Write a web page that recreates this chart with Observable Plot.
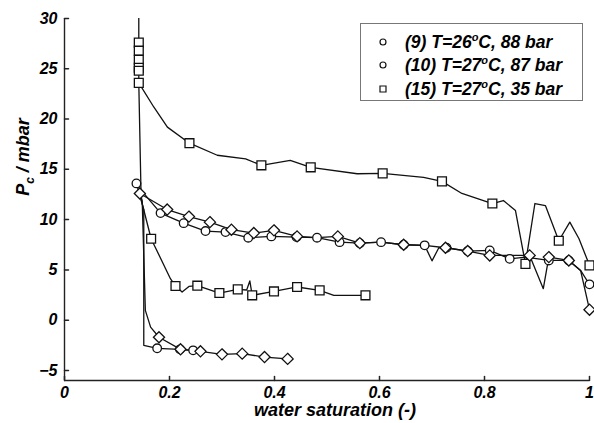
<!DOCTYPE html>
<html><head><meta charset="utf-8">
<script src="https://cdn.jsdelivr.net/npm/d3@7"></script>
<script src="https://cdn.jsdelivr.net/npm/@observablehq/plot@0.6"></script>
<style>
body{margin:0;background:#fff;}
#chart{position:relative;width:594px;height:423px;}
svg text{font-family:"Liberation Sans",Arial,sans-serif;font-weight:bold;font-style:italic;}
</style></head><body><div id="chart"></div>
<script>
// Tick values and labels
const xTicks = [0, 0.2, 0.4, 0.6, 0.8, 1];
const xTickLabels = ["0", "0.2", "0.4", "0.6", "0.8", "1"];
const yTicks = [-5, 0, 5, 10, 15, 20, 25, 30];

// Legend
const legendPrefix = ["(9) T=26", "(10) T=27", "(15) T=27"];
const legendSuffix = ["C, 88 bar", "C, 87 bar", "C, 35 bar"];

// (15) drainage (upper squares)
const s15dX = [0.1415,0.1415,0.1415,0.1415,0.1415,0.1415,0.1415,0.170,0.196,0.238,0.291,0.345,0.375,0.430,0.469,0.5575,0.606,0.684,0.719,0.757,0.815,0.836,0.859,0.878,0.896,0.916,0.9415,0.9625,0.98,1.0];
const s15dY = [31,27.6,26.8,25.9,25.1,24.8,23.6,21.2,19.2,17.6,16.4,16.05,15.4,15.9,15.2,14.56,14.6,14.2,13.8,12.6,11.6,11.9,10.9,5.6,11.6,11.4,7.9,9.75,8.1,5.45];
const s15dMX = [0.1415,0.1415,0.1415,0.1415,0.1415,0.1415,0.238,0.375,0.469,0.606,0.719,0.815,0.878,0.9415,1.0];
const s15dMY = [27.6,26.8,25.9,25.1,24.8,23.6,17.6,15.4,15.2,14.6,13.8,11.6,5.6,7.9,5.45];

// (15) imbibition (lower squares)
const s15iX = [0.1415,0.146,0.165,0.202,0.2114,0.224,0.237,0.253,0.295,0.33,0.347,0.353,0.3575,0.399,0.443,0.486,0.513,0.5733];
const s15iY = [23.6,12.0,8.1,4.1,3.4,2.8,3.36,3.43,2.7,3.06,3.0,3.9,2.47,2.86,3.3,2.96,2.47,2.47];
const s15iMX = [0.165,0.2114,0.253,0.295,0.33,0.3575,0.399,0.443,0.486,0.5733];
const s15iMY = [8.1,3.4,3.43,2.7,3.06,2.47,2.86,3.3,2.96,2.47];

// (9) drainage (middle circles)
const s9dX = [0.137,0.1415,0.183,0.227,0.2686,0.3067,0.35,0.394,0.442,0.481,0.524,0.5625,0.603,0.646,0.686,0.70,0.713,0.7276,0.768,0.81,0.848,0.878,0.9225,0.9606,0.983,1.0];
const s9dY = [13.6,13.2,10.65,9.65,8.86,8.76,8.2,8.33,8.26,8.2,7.76,7.66,7.76,7.5,7.44,5.9,7.2,7.2,6.87,6.94,6.1,6.27,5.94,5.94,4.95,3.56];
const s9dMX = [0.137,0.183,0.227,0.2686,0.3067,0.35,0.394,0.442,0.481,0.524,0.5625,0.603,0.646,0.686,0.7276,0.768,0.81,0.848,0.9225,0.9606,1.0];
const s9dMY = [13.6,10.65,9.65,8.86,8.76,8.2,8.33,8.26,8.2,7.76,7.66,7.76,7.5,7.44,7.2,6.87,6.94,6.1,5.94,5.94,3.56];

// (10) drainage (middle diamonds)
const s10dX = [0.1435,0.1956,0.237,0.277,0.318,0.3606,0.399,0.443,0.481,0.5206,0.5625,0.603,0.646,0.686,0.7257,0.768,0.81,0.848,0.886,0.912,0.9225,0.9606,0.983,1.0];
const s10dY = [12.6,11.0,10.3,9.75,9.0,8.66,8.93,8.33,8.2,8.33,7.66,7.76,7.5,7.44,7.2,6.87,6.44,6.44,6.44,3.13,6.27,5.94,4.95,1.04];
const s10dMX = [0.1435,0.1956,0.237,0.277,0.318,0.3606,0.399,0.443,0.5206,0.5625,0.646,0.7257,0.768,0.81,0.886,0.9225,0.9606,1.0];
const s10dMY = [12.6,11.0,10.3,9.75,9.0,8.66,8.93,8.33,8.33,7.66,7.5,7.2,6.87,6.44,6.44,6.27,5.94,1.04];

// (9) imbibition (lower circles)
const s9iX = [0.137,0.151,0.151,0.1765,0.22,0.245,0.258];
const s9iY = [13.6,11.0,-2.5,-2.8,-2.9,-3.0,-3.05];
const s9iMX = [0.1765,0.22,0.245];
const s9iMY = [-2.8,-2.9,-3.0];

// (10) imbibition (lower diamonds)
const s10iX = [0.1435,0.148,0.154,0.164,0.18,0.221,0.259,0.3,0.3385,0.381,0.425];
const s10iY = [12.6,11.9,0.97,-0.69,-1.7,-2.9,-3.1,-3.4,-3.33,-3.67,-3.85];
const s10iMX = [0.18,0.221,0.259,0.3,0.3385,0.381,0.425];
const s10iMY = [-1.7,-2.9,-3.1,-3.4,-3.33,-3.67,-3.85];

const pts = (X, Y) => X.map((x, i) => ({x, y: Y[i]}));
const lineOpts = {x: "x", y: "y", stroke: "#111", strokeWidth: 1.3, clip: true, curve: "linear"};
const dotOpts = (symbol, r) => ({x: "x", y: "y", symbol, r, fill: "white", stroke: "#111", strokeWidth: 1.3});

const tickShape = {draw(context, l) { context.moveTo(0, 0); context.lineTo(0, -l); }};

const chart = Plot.plot({
  width: 594, height: 423,
  marginLeft: 64, marginRight: 5, marginTop: 18, marginBottom: 43,
  x: {domain: [0, 1]},
  y: {domain: [-6, 30]},
  style: {background: "white", color: "black", fontSize: "15px"},
  marks: [
    Plot.line(pts(s15dX, s15dY), lineOpts),
    Plot.line(pts(s15iX, s15iY), lineOpts),
    Plot.line(pts(s9dX, s9dY), lineOpts),
    Plot.line(pts(s10dX, s10dY), lineOpts),
    Plot.line(pts(s9iX, s9iY), lineOpts),
    Plot.line(pts(s10iX, s10iY), lineOpts),
    Plot.dot(pts(s15dMX, s15dMY), dotOpts("square", 5)),
    Plot.dot(pts(s15iMX, s15iMY), dotOpts("square", 5)),
    Plot.dot(pts(s9dMX, s9dMY), dotOpts("circle", 4.3)),
    Plot.dot(pts(s10dMX, s10dMY), dotOpts("diamond2", 5)),
    Plot.dot(pts(s9iMX, s9iMY), dotOpts("circle", 4.3)),
    Plot.dot(pts(s10iMX, s10iMY), dotOpts("diamond2", 5)),
    Plot.ruleX([0], {stroke: "#222", strokeWidth: 1.4}),
    Plot.ruleY([-6], {stroke: "#222", strokeWidth: 1.4}),
    Plot.vector(xTicks, {x: d => d, frameAnchor: "bottom", anchor: "start", length: 4, shape: tickShape, stroke: "#222"}),
    Plot.vector(yTicks, {y: d => d, frameAnchor: "left", anchor: "start", length: 4, rotate: 90, shape: tickShape, stroke: "#222"}),
    Plot.axisX(xTicks, {tickSize: 0, tickPadding: 6, tickFormat: (d, i) => xTickLabels[i], label: null, fontSize: 16}),
    Plot.axisY(yTicks, {tickSize: 0, tickPadding: 7, label: null, fontSize: 16})
  ]
});

document.getElementById("chart").appendChild(chart);
const svg = d3.select(chart);

// Axis titles
svg.append("text").attr("x", 335).attr("y", 416).attr("text-anchor", "middle")
  .attr("font-size", 18).attr("fill", "black").text("water saturation (-)");
const yl = svg.append("text").attr("transform", "translate(29,157) rotate(-90)")
  .attr("text-anchor", "middle").attr("font-size", 18).attr("fill", "black");
yl.append("tspan").text("P");
yl.append("tspan").attr("font-size", 12).attr("dy", 5).text("c");
yl.append("tspan").attr("dy", -5).text(" / mbar");

// Legend
const lg = svg.append("g").attr("text-anchor", "start");
lg.append("rect").attr("x", 360.5).attr("y", 23.5).attr("width", 222).attr("height", 77)
  .attr("fill", "white").attr("stroke", "#777").attr("stroke-width", 1);
const rowsY = [42, 65, 89];
const syms = [d3.symbolCircle, d3.symbolCircle, d3.symbolSquare];
const sizes = [28, 28, 36];
rowsY.forEach((ry, i) => {
  lg.append("path").attr("d", d3.symbol(syms[i], sizes[i])()).attr("transform", `translate(383,${ry})`)
    .attr("fill", "white").attr("stroke", "#111").attr("stroke-width", 1.2);
  const t = lg.append("text").attr("x", 405).attr("y", ry + 6).attr("font-size", 17.5)
    .attr("text-anchor", "start").attr("fill", "black");
  t.append("tspan").text(legendPrefix[i]);
  t.append("tspan").attr("font-size", 11).attr("dy", -7).text("o");
  t.append("tspan").attr("dy", 7).text(legendSuffix[i]);
});
</script></body></html>
